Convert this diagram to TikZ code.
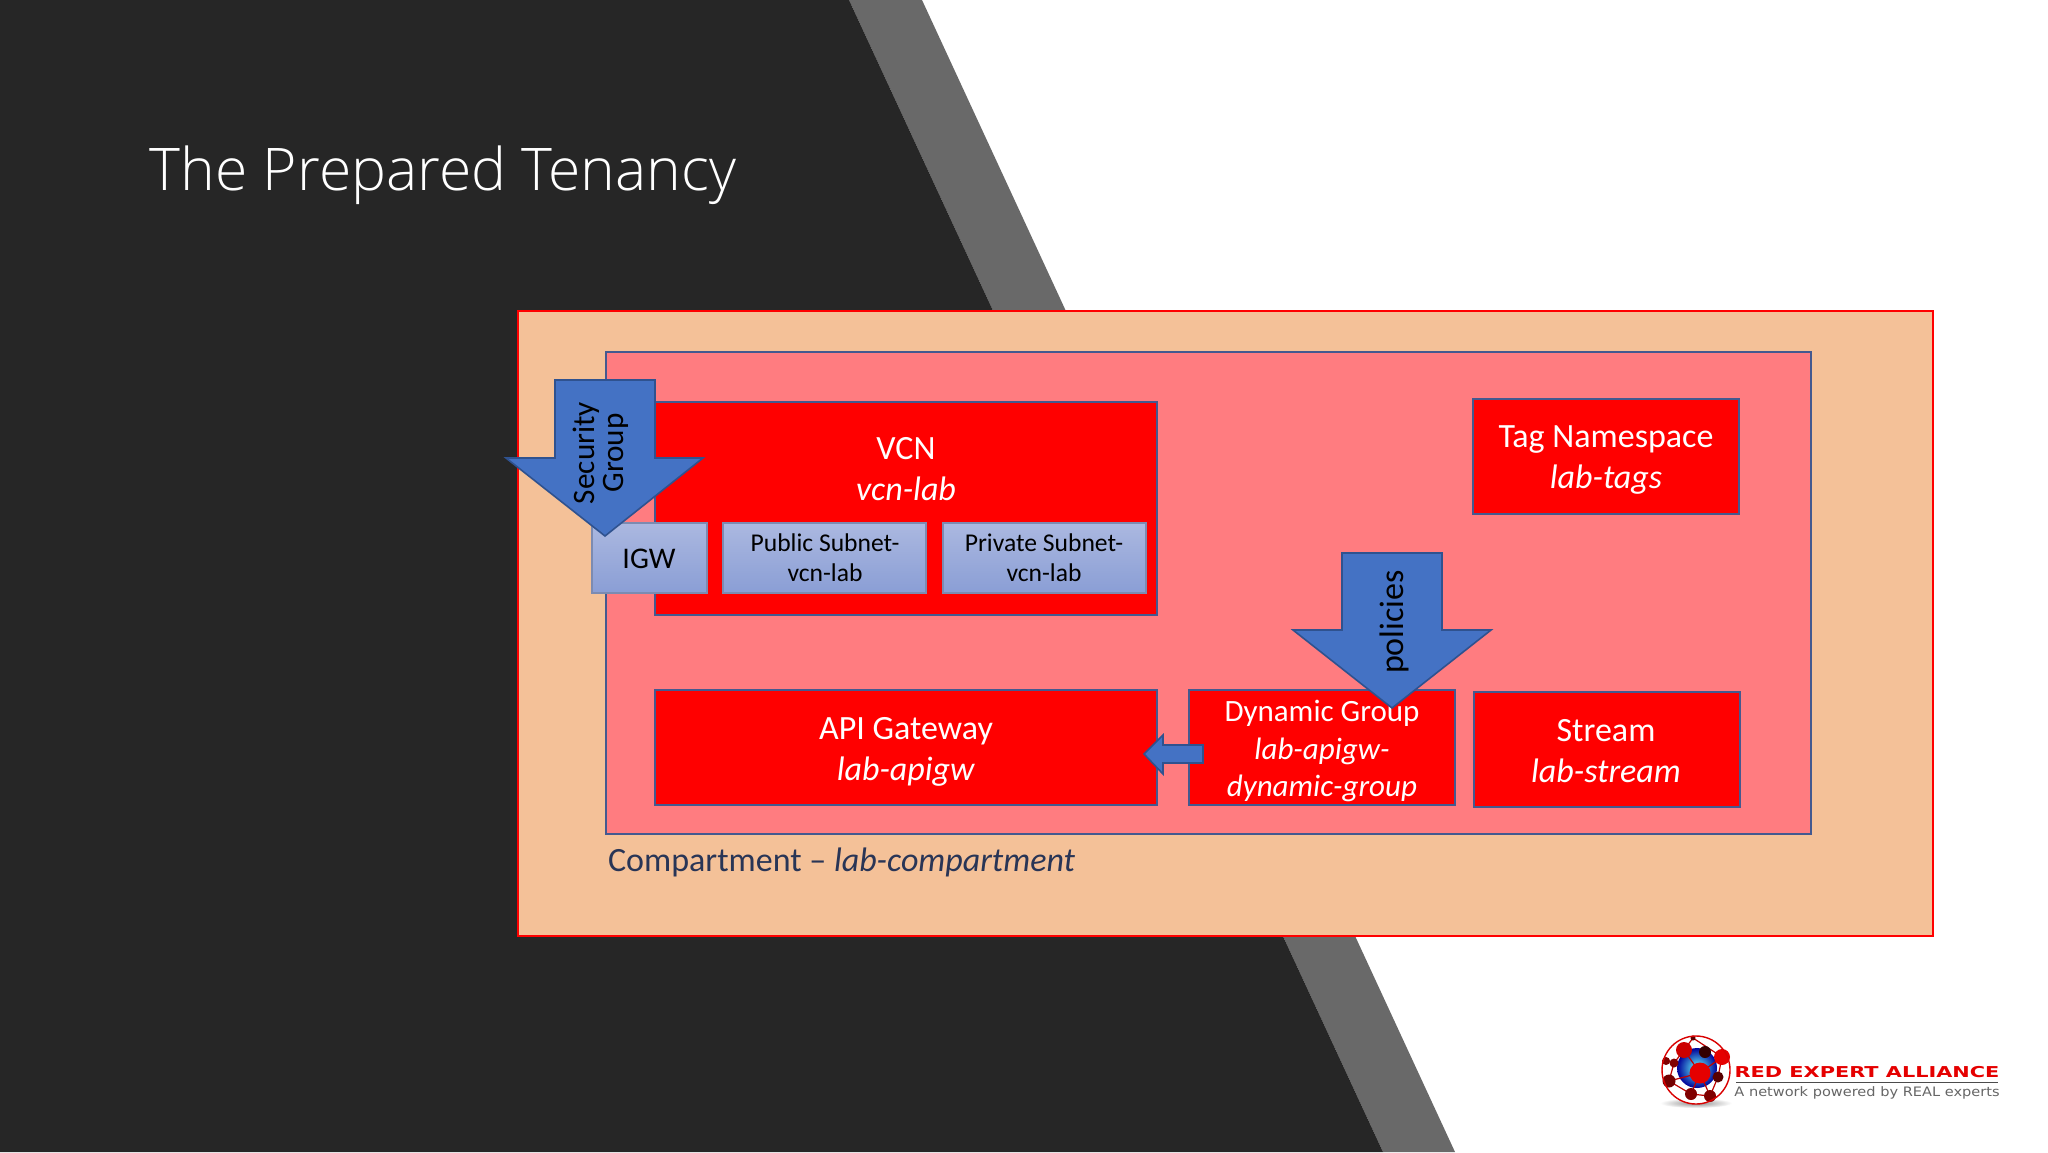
\documentclass[tikz,border=0pt]{standalone}
\usepackage{fontspec}
\setmainfont{Carlito}
\newfontfamily\titlefont{Open Sans Light}
\newfontfamily\logofont{DejaVu Sans}
\usepackage{tikz}
\definecolor{slate}{HTML}{262626}
\definecolor{band}{HTML}{696969}
\definecolor{peach}{HTML}{F4C198}
\definecolor{rosy}{HTML}{FF7C80}
\definecolor{edgeblue}{HTML}{44598F}
\definecolor{arrowblue}{HTML}{4472C4}
\definecolor{arrowedge}{HTML}{2F528F}
\definecolor{subnettop}{HTML}{ABB8E0}
\definecolor{subnetbot}{HTML}{8A9ED5}
\tikzset{
  redbox/.style={draw=edgeblue, line width=1.2pt, fill=red},
  subnet/.style={draw=edgeblue!70, line width=0.8pt, top color=subnettop, bottom color=subnetbot},
  blockarrow/.style={draw=arrowedge, line width=0.8pt, fill=arrowblue},
  boxlabel/.style={text=white, align=center, font=\fontsize{17}{20.5}\selectfont},
  sublabel/.style={text=black, align=center, font=\fontsize{12.8}{15}\selectfont},
  arrowlabel/.style={text=black, rotate=90, align=center, font=\fontsize{15.6}{14.5}\selectfont},
}
\begin{document}
\begin{tikzpicture}[x=0.5pt, y=-0.5pt]
\useasboundingbox (0,0) rectangle (2048,1152);
\fill [white] (0,0) rectangle (2048,1152);
% slide background
\fill [band] (849,0) -- (922,0) -- (1455,1152) -- (1383,1152) -- cycle;
\fill [slate] (0,0) -- (849,0) -- (1383,1152) -- (0,1152) -- cycle;
\node (title) at (443,175) [text=white, font=\titlefont\fontsize{29.4}{32}\selectfont] {The Prepared Tenancy};

% tenancy and compartment
\draw [draw=red, line width=1.2pt, fill=peach] (518,311) rectangle (1933,936);
\draw [draw=edgeblue, line width=1.2pt, fill=rosy] (606,352) rectangle (1811,834);
\node (compartment) at (601,862) [anchor=west, text=edgeblue!60!black, font=\fontsize{17}{20}\selectfont] {Compartment -- \textit{lab-compartment}};

% vcn
\draw [redbox] (655,402) rectangle (1157,615);
\node (vcn) at (906,469) [boxlabel] {VCN\\\textit{vcn-lab}};
\draw [subnet] (592,523) rectangle (707,593);
\node (igw) at (649,559) [sublabel, font=\fontsize{15}{18}\selectfont] {IGW};
\draw [subnet] (723,523) rectangle (926,593);
\node (public) at (825,558) [sublabel] {Public Subnet-\\vcn-lab};
\draw [subnet] (943,523) rectangle (1146,593);
\node (private) at (1044,558) [sublabel] {Private Subnet-\\vcn-lab};

% tags
\draw [redbox] (1473,399) rectangle (1739,514);
\node (tags) at (1606,460) [boxlabel] {Tag Namespace\\\textit{lab-tags}};

% bottom row
\draw [redbox] (655,690) rectangle (1157,805);
\node (apigw) at (906,752) [boxlabel] {API Gateway\\\textit{lab-apigw}};
\draw [redbox] (1189,690) rectangle (1455,805);
\node (dyngroup) at (1322,751) [boxlabel, font=\fontsize{15.5}{18.8}\selectfont] {Dynamic Group\\\textit{lab-apigw-}\\\textit{dynamic-group}};
\draw [redbox] (1474,692) rectangle (1740,807);
\node (stream) at (1606,751) [boxlabel] {Stream\\\textit{lab-stream}};

% block arrows
\draw [blockarrow] (555,380) -- (655,380) -- (655,458) -- (703,458) -- (605,536) -- (506,458) -- (555,458) -- cycle;
\node (secgroup) at (601,453) [arrowlabel] {Security\\Group};
\draw [blockarrow] (1342,553) -- (1442,553) -- (1442,630) -- (1491,630) -- (1392,708) -- (1293,630) -- (1342,630) -- cycle;
\node (policies) at (1394,622) [arrowlabel, font=\fontsize{17}{18}\selectfont] {policies};
\draw [blockarrow] (1203,745) -- (1163,745) -- (1163,735) -- (1144,754) -- (1163,774) -- (1163,763) -- (1203,763) -- cycle;

% logo
\shade [inner color=black!45, outer color=white] (1696,1103) ellipse (36 and 5);
\fill [white] (1696,1070) circle (34);
\shade [inner color=cyan!60!white, outer color=blue!60!black] (1697,1068) circle (20);
\draw [red!75!black, line width=0.6pt] (1684,1050) -- (1700,1073) -- (1722,1057) (1700,1073) -- (1669,1081) (1700,1073) -- (1691,1094) (1700,1073) -- (1710,1096) (1684,1050) -- (1674,1063) -- (1666,1061) (1684,1050) -- (1693,1038) -- (1722,1057) (1669,1081) -- (1691,1094) -- (1710,1096) -- (1718,1077) -- (1722,1057) (1674,1063) -- (1669,1081);
\foreach \cx/\cy/\r/\c in {1684/1050/8/red!80!black, 1722/1057/8/red!90!black, 1700/1073/10.5/red!90!black, 1669/1081/6.5/red!45!black, 1674/1063/4.5/red!50!black, 1666/1061/4/red!50!black, 1691/1094/6/red!50!black, 1710/1096/6/red!50!black, 1718/1077/5.5/red!35!black, 1693/1038/2.5/red!35!black, 1705/1052/6/red!20!black}
  \fill [\c] (\cx,\cy) circle (\r);
\draw [red!85!black, line width=0.7pt] (1696,1070) circle (34);
\node (logoname) at (1867,1072) [text=red!90!black, inner sep=0pt, font=\logofont\bfseries\fontsize{7.5}{9}\selectfont] {\scalebox{1.39}[1]{RED EXPERT ALLIANCE}};
\draw [black!70, line width=0.4pt] (1736,1082) -- (1998,1082);
\node (logotag) at (1867,1093) [text=black!60, inner sep=0pt, font=\logofont\fontsize{6.5}{8}\selectfont] {\scalebox{1.12}[1]{A network powered by REAL experts}};
\end{tikzpicture}
\end{document}
